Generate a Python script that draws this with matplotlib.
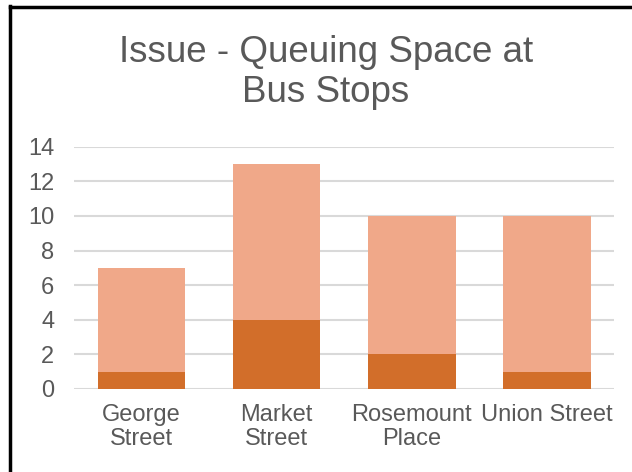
import matplotlib.pyplot as plt
from matplotlib.lines import Line2D

# Data
stops = ['George\nStreet', 'Market\nStreet', 'Rosemount\nPlace', 'Union Street']
lower = [1, 4, 2, 1]
upper = [6, 9, 8, 9]

dark = '#D26E2A'
light = '#F0A889'
grey = '#595959'

plt.rcParams['font.family'] = ['Liberation Sans', 'DejaVu Sans']

fig = plt.figure(figsize=(6.32, 4.72), dpi=100)
ax = fig.add_axes([0.117, 0.176, 0.855, 0.513])

x = list(range(len(stops)))
ax.bar(x, lower, width=0.65, color=dark, zorder=3)
ax.bar(x, upper, width=0.65, bottom=lower, color=light, zorder=3)

ax.set_xlim(-0.5, len(stops) - 0.5)
ax.set_ylim(0, 14)
ax.set_yticks(range(0, 15, 2))
ax.set_xticks(x)
ax.set_xticklabels(stops, fontsize=17, color=grey, linespacing=1.1)
ax.tick_params(axis='y', labelsize=17, labelcolor=grey, length=0, pad=14)
ax.tick_params(axis='x', length=0, pad=11)
ax.yaxis.grid(True, color='#D9D9D9', linewidth=1.5, zorder=0)
for s in ax.spines.values():
    s.set_visible(False)

fig.text(0.516, 0.847, 'Issue - Queuing Space at\nBus Stops', ha='center', va='center',
         fontsize=26.5, color=grey, linespacing=1.2)

# frame lines (left and top only visible in the picture)
fig.add_artist(Line2D([10 / 632, 10 / 632], [0, 1 - 6 / 472], color='black', linewidth=2.5))
fig.add_artist(Line2D([10 / 632, 1], [1 - 7 / 472, 1 - 7 / 472], color='black', linewidth=2.5))

fig.savefig('out.png', dpi=100)
